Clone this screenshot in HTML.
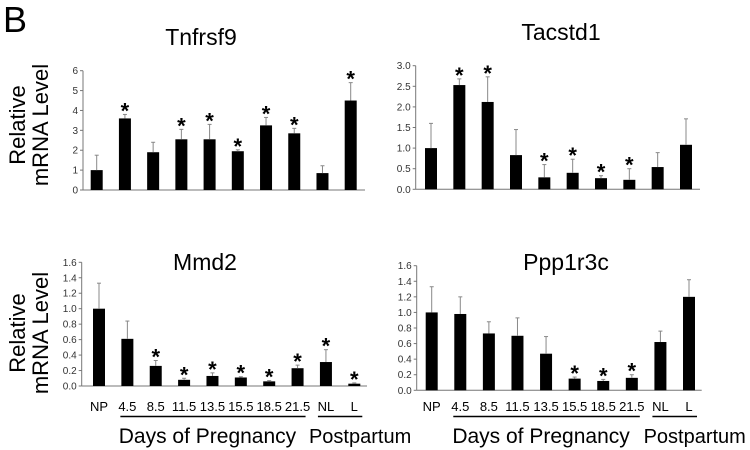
<!DOCTYPE html>
<html><head><meta charset="utf-8"><style>
body{margin:0;background:#fff;}
svg{display:block;font-family:"Liberation Sans",Arial,sans-serif;}
</style></head><body>
<svg id="fig" width="750" height="450" viewBox="0 0 750 450">
<text x="3" y="32" font-size="36">B</text>
<g transform="translate(0,125) rotate(-90)">
<text x="0" y="25" font-size="22" text-anchor="middle">Relative</text>
<text x="0" y="48" font-size="22" text-anchor="middle">mRNA Level</text></g>
<g transform="translate(0,333) rotate(-90)">
<text x="0" y="25" font-size="22" text-anchor="middle">Relative</text>
<text x="0" y="48" font-size="22" text-anchor="middle">mRNA Level</text></g>
</svg>
<script>
const categories=["NP","4.5","8.5","11.5","13.5","15.5","18.5","21.5","NL","L"];
const tnfVals=[1.0,3.6,1.9,2.55,2.55,1.95,3.25,2.85,0.85,4.5];
const tnfErr=[0.75,0.2,0.5,0.5,0.75,0.07,0.4,0.25,0.37,0.9];
const tnfSig=[0,1,0,1,1,1,1,1,0,1];
const tnfTicks=["0","1","2","3","4","5","6"];
const tacVals=[1.0,2.53,2.12,0.83,0.29,0.4,0.27,0.23,0.54,1.08];
const tacErr=[0.6,0.15,0.61,0.62,0.31,0.33,0.06,0.27,0.35,0.63];
const tacSig=[0,1,1,0,1,1,1,1,0,0];
const tacTicks=["0.0","0.5","1.0","1.5","2.0","2.5","3.0"];
const mmdVals=[1.0,0.61,0.26,0.08,0.13,0.11,0.06,0.23,0.31,0.03];
const mmdErr=[0.33,0.23,0.07,0.02,0.04,0.01,0.01,0.04,0.16,0.01];
const mmdSig=[0,0,1,1,1,1,1,1,1,1];
const pppVals=[1.0,0.98,0.73,0.7,0.47,0.15,0.12,0.16,0.62,1.2];
const pppErr=[0.33,0.22,0.15,0.23,0.22,0.02,0.02,0.04,0.14,0.22];
const pppSig=[0,0,0,0,0,1,1,1,0,0];
const smallTicks=["0.0","0.2","0.4","0.6","0.8","1.0","1.2","1.4","1.6"];

const NS="http://www.w3.org/2000/svg";
const svg=document.getElementById('fig');
function el(tag,attrs,parent,txt){const e=document.createElementNS(NS,tag);for(const k in attrs)e.setAttribute(k,attrs[k]);if(txt!==undefined)e.textContent=txt;parent.appendChild(e);return e;}

function panel(o){
  const g=el('g',{},svg);
  
  
  const maxV=parseFloat(o.ticks[o.ticks.length-1]);
  const y=v=>o.y0-(v/maxV)*(o.y0-o.yTop);
  const step=(o.xLast-o.xFirst)/(categories.length-1);
  const x=i=>o.xFirst+i*step;
  const t=el('text',{x:o.titleX,y:o.titleY,'font-size':23,'text-anchor':'middle'},g,o.title);
  
  
  el('line',{x1:o.ax,y1:o.yTop,x2:o.ax,y2:o.y0,stroke:'#777','stroke-width':1},g);
  el('line',{x1:o.ax,y1:o.y0,x2:o.axEnd,y2:o.y0,stroke:'#777','stroke-width':1},g);
  o.ticks.forEach(tk=>{
    const yy=y(parseFloat(tk));
    el('line',{x1:o.ax-3,y1:yy,x2:o.ax,y2:yy,stroke:'#777'},g);
    const lt=el('text',{x:o.ax-5,y:yy+3.5,'font-size':10,'text-anchor':'end',fill:'#333'},g,tk);
    
    
  });
  o.vals.forEach((v,i)=>{
    const cx=x(i),bw=12;
    const b=el('rect',{x:cx-bw/2,y:y(v),width:bw,height:o.y0-y(v),fill:'#000'},g);
    
    
    const top=y(v+o.err[i]);
    el('line',{x1:cx,y1:y(v),x2:cx,y2:top,stroke:'#888','stroke-width':1},g);
    el('line',{x1:cx-2,y1:top,x2:cx+2,y2:top,stroke:'#888','stroke-width':1},g);
    if(o.sig[i]){
      const s=el('text',{x:cx,y:top+4,'font-size':22,'font-weight':'bold','text-anchor':'middle'},g,'*');
      
      
    }
    if(o.labels){
      const c=el('text',{x:cx,y:411,'font-size':13,'text-anchor':'middle'},g,categories[i]);
      
      
    }
  });
  if(o.labels){
    el('line',{x1:x(1)-7,y1:416.5,x2:x(7)+8,y2:416.5,stroke:'#000','stroke-width':1.5},g);
    el('line',{x1:x(8)-8,y1:416.5,x2:x(9)+8,y2:416.5,stroke:'#000','stroke-width':1.5},g);
    const d=el('text',{x:(x(1)+x(7))/2-5,y:443,'font-size':21,'text-anchor':'middle'},g,'Days of Pregnancy');
    
    
    const p=el('text',{x:Math.min((x(8)+x(9))/2+20,697),y:443,'font-size':20,'text-anchor':'middle'},g,'Postpartum');
    
    
  }
}
panel({name:'tnfrsf9-chart',title:'Tnfrsf9',titleX:201,titleY:45,ax:83,axEnd:365,y0:190,yTop:70.7,xFirst:96.7,xLast:350.7,vals:tnfVals,err:tnfErr,sig:tnfSig,ticks:tnfTicks,labels:false});
panel({name:'tacstd1-chart',title:'Tacstd1',titleX:561,titleY:40,ax:415.7,axEnd:700,y0:189.3,yTop:65.7,xFirst:431,xLast:686,vals:tacVals,err:tacErr,sig:tacSig,ticks:tacTicks,labels:false});
panel({name:'mmd2-chart',title:'Mmd2',titleX:205,titleY:270,ax:81.7,axEnd:367,y0:386,yTop:262.3,xFirst:99,xLast:354.3,vals:mmdVals,err:mmdErr,sig:mmdSig,ticks:smallTicks,labels:true});
panel({name:'ppp1r3c-chart',title:'Ppp1r3c',titleX:566,titleY:270,ax:416.7,axEnd:701.7,y0:390.3,yTop:265.7,xFirst:431.7,xLast:689,vals:pppVals,err:pppErr,sig:pppSig,ticks:smallTicks,labels:true});
</script>
</body></html>
